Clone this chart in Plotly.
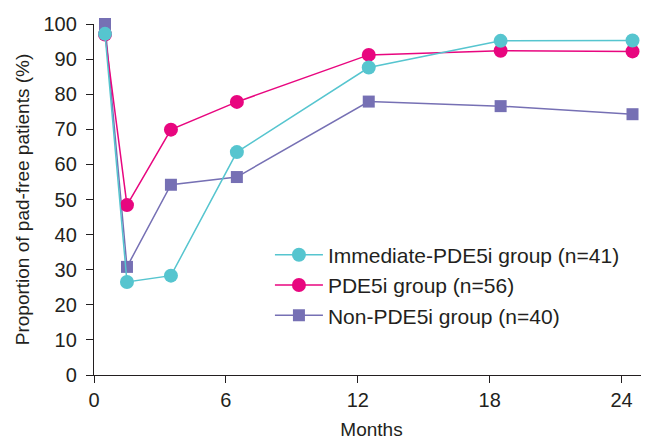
import plotly.graph_objects as go

months = [0.5, 1.5, 3.5, 6.5, 12.5, 18.5, 24.5]
immediate = [97.2, 26.5, 28.3, 63.5, 87.6, 95.2, 95.3]
pde5i = [97.0, 48.4, 69.9, 77.8, 91.2, 92.4, 92.2]
non_pde5i = [100.0, 30.8, 54.2, 56.4, 77.9, 76.6, 74.3]
x_ticks = [0, 6, 12, 18, 24]
y_ticks = [0, 10, 20, 30, 40, 50, 60, 70, 80, 90, 100]

names = ["Immediate-PDE5i group (n=41)", "PDE5i group (n=56)", "Non-PDE5i group (n=40)"]
colors = ["#56C5CF", "#E8067F", "#7670B4"]

FONT = "Liberation Sans, Arial, sans-serif"
TXT = "#231F20"

fig = go.Figure()
# draw order: purple bottom, magenta, cyan top
fig.add_trace(go.Scatter(x=months, y=non_pde5i, name=names[2], mode="lines+markers",
                         line=dict(color=colors[2], width=1.5),
                         marker=dict(symbol="square", size=12, color=colors[2], line=dict(width=0)),
                         cliponaxis=False))
fig.add_trace(go.Scatter(x=months, y=pde5i, name=names[1], mode="lines+markers",
                         line=dict(color=colors[1], width=1.5),
                         marker=dict(symbol="circle", size=14, color=colors[1], line=dict(width=0)),
                         cliponaxis=False))
fig.add_trace(go.Scatter(x=months, y=immediate, name=names[0], mode="lines+markers",
                         line=dict(color=colors[0], width=1.5),
                         marker=dict(symbol="circle", size=14, color=colors[0], line=dict(width=0)),
                         cliponaxis=False))

fig.update_layout(
    width=649, height=437,
    margin=dict(l=86, r=8, t=16, b=70),
    paper_bgcolor="white", plot_bgcolor="white",
    font=dict(family=FONT, size=20, color=TXT),
    showlegend=True,
    legend=dict(traceorder="reversed", x=0.317, y=0.40, xanchor="left", yanchor="top",
                bgcolor="rgba(0,0,0,0)", font=dict(size=21, color=TXT),
                itemwidth=48, tracegroupgap=0),
    xaxis=dict(range=[0, 25.25], tickvals=x_ticks, ticktext=[str(v) for v in x_ticks],
               automargin=False,
               showgrid=False, zeroline=False, showline=True, linecolor=TXT, linewidth=1.3,
               ticks="outside", ticklen=7, tickwidth=1.3, tickcolor=TXT,
               tickfont=dict(size=20, color=TXT),
               title=dict(text="Months", font=dict(size=19, color=TXT), standoff=12)),
    yaxis=dict(range=[0, 100], tickvals=y_ticks, ticktext=[str(v) for v in y_ticks],
               automargin=False,
               showgrid=False, zeroline=False, showline=True, linecolor=TXT, linewidth=1.3,
               ticks="outside", ticklen=7, tickwidth=1.3, tickcolor=TXT,
               ticklabelstandoff=5,
               tickfont=dict(size=20, color=TXT),
               title=dict(text="Proportion of pad-free patients (%)", font=dict(size=19, color=TXT),
                          standoff=8)),
)

fig.write_html("out.html")
